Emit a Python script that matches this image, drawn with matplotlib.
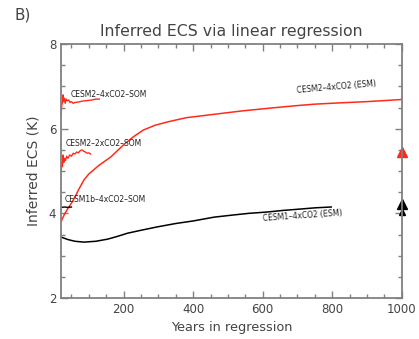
import matplotlib
matplotlib.use('Agg')
import matplotlib.pyplot as plt
from matplotlib.ticker import MultipleLocator

# CESM2-4xCO2 (ESM)
cesm2_esm_x = [20, 30, 40, 50, 63, 70, 86, 100, 130, 163, 200, 230, 257, 290,
               326, 380, 420, 480, 540, 626, 690, 749, 820, 900, 1000]
cesm2_esm_y = [3.80, 3.98, 4.12, 4.24, 4.43, 4.55, 4.79, 4.93, 5.14, 5.33,
               5.62, 5.82, 5.97, 6.08, 6.16, 6.26, 6.30, 6.36, 6.42, 6.49,
               6.54, 6.58, 6.61, 6.64, 6.69]

# CESM1-4xCO2 (ESM)
cesm1_esm_x = [20, 40, 60, 86, 120, 154, 180, 211, 250, 297, 350, 400, 460,
               514, 560, 611, 660, 706, 750, 797]
cesm1_esm_y = [3.44, 3.38, 3.34, 3.32, 3.34, 3.39, 3.45, 3.53, 3.60, 3.68,
               3.76, 3.82, 3.91, 3.96, 4.00, 4.03, 4.07, 4.10, 4.13, 4.15]

# CESM2-4xCO2-SOM
som4_x = [20, 22, 24, 26, 28, 30, 32, 35, 38, 42, 46, 50, 55, 60, 70, 80, 90,
          100, 110, 120, 130]
som4_y = [6.33, 6.55, 6.62, 6.80, 6.64, 6.72, 6.60, 6.70, 6.66, 6.68, 6.62,
          6.64, 6.60, 6.62, 6.63, 6.65, 6.66, 6.67, 6.68, 6.70, 6.70]

# CESM2-2xCO2-SOM
som2_x = [20, 22, 24, 26, 28, 30, 33, 36, 40, 45, 50, 55, 60, 65, 70, 75, 80,
          85, 90, 95, 100, 105]
som2_y = [4.98, 5.20, 5.10, 5.38, 5.20, 5.30, 5.25, 5.35, 5.30, 5.38, 5.35,
          5.42, 5.40, 5.45, 5.43, 5.48, 5.50, 5.47, 5.45, 5.42, 5.43, 5.40]

# CESM1b-4xCO2-SOM
som1b_x = [20, 30, 40, 50]
som1b_y = [4.14, 4.15, 4.14, 4.15]

# triangles at the right edge (equilibrium values)
tri_red_y = [5.44]
tri_black_big_y = [4.23]
tri_black_small_y = [4.03]

RED = '#ff2a1a'
GRAY = '#808080'

fig = plt.figure(figsize=(4.19, 3.39), dpi=100)
ax = fig.add_axes([0.1456, 0.121, 0.8134, 0.749])

ax.plot(cesm2_esm_x, cesm2_esm_y, color=RED, lw=1.1)
ax.plot(cesm1_esm_x, cesm1_esm_y, color='black', lw=1.1)
ax.plot(som4_x, som4_y, color=RED, lw=1.0)
ax.plot(som2_x, som2_y, color=RED, lw=1.0)
ax.plot(som1b_x, som1b_y, color='black', lw=1.0)

ax.plot([1000], tri_red_y, marker='^', color=RED, ms=7.5, clip_on=False)
ax.plot([1000], tri_black_big_y, marker='^', color='black', ms=7.5,
        clip_on=False)
ax.plot([1000], tri_black_small_y, marker='^', color='black', ms=4.5,
        clip_on=False)

fs_lab = 5.5
ax.text(49, 6.75, 'CESM2\u20134xCO2\u2013SOM', fontsize=fs_lab, color='#222222')
ax.text(34, 5.59, 'CESM2\u20132xCO2\u2013SOM', fontsize=fs_lab, color='#222222')
ax.text(29, 4.27, 'CESM1b\u20134xCO2\u2013SOM', fontsize=fs_lab,
        color='#222222')
ax.text(697, 6.85, 'CESM2\u20134xCO2 (ESM)', fontsize=fs_lab, rotation=5,
        color='#222222')
ax.text(600, 3.82, 'CESM1\u20134xCO2 (ESM)', fontsize=fs_lab, rotation=4,
        color='#222222')

ax.set_xlim(20, 1000)
ax.set_ylim(2, 8)
ax.xaxis.set_major_locator(MultipleLocator(200))
ax.xaxis.set_minor_locator(MultipleLocator(50))
ax.yaxis.set_major_locator(MultipleLocator(2))
ax.yaxis.set_minor_locator(MultipleLocator(0.5))

ax.tick_params(which='both', direction='in', top=True, right=True,
               color=GRAY, labelcolor='#444444', labelsize=8.5, width=1)
ax.tick_params(which='major', length=5)
ax.tick_params(which='minor', length=3)
for sp in ax.spines.values():
    sp.set_color(GRAY)
    sp.set_linewidth(1.3)

ax.set_xticks([200, 400, 600, 800, 1000])
ax.set_xlabel('Years in regression', fontsize=9.3, color='#444444')
ax.set_ylabel('Inferred ECS (K)', fontsize=10, color='#444444', labelpad=6)
ax.set_title('Inferred ECS via linear regression', fontsize=11.3,
             color='#444444', pad=6)
fig.text(0.035, 0.955, 'B)', fontsize=11, color='#444444', va='center')

fig.savefig('out.png', dpi=100)
